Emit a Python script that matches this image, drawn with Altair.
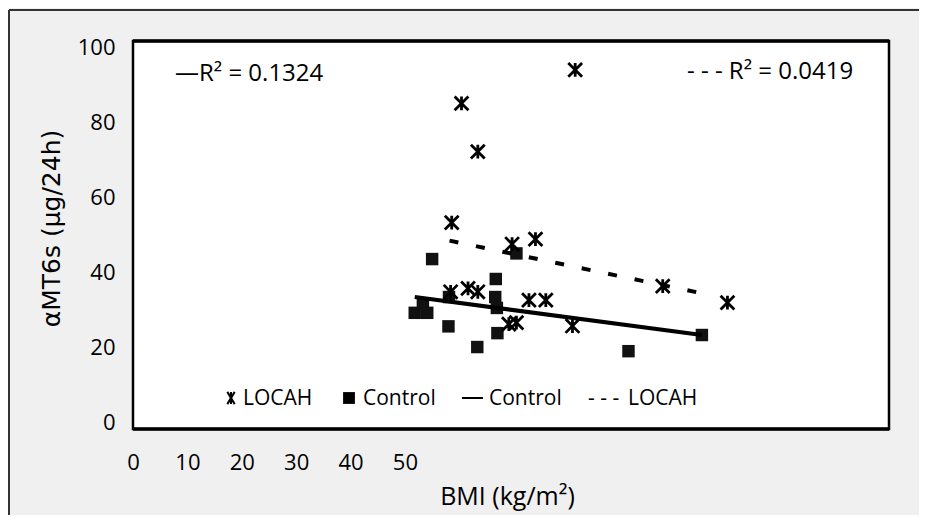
import altair as alt
import pandas as pd

# ---- data ----
locah_bmi = [81.3, 60.4, 63.4, 58.6, 69.7, 74.0, 58.4, 61.6, 63.4, 72.8, 75.9, 69.1, 70.5, 80.8, 97.4, 109.3]
locah_mt6s = [93.9, 85.0, 72.2, 53.3, 47.6, 48.9, 34.9, 35.8, 34.9, 32.7, 32.7, 26.3, 26.7, 25.8, 36.4, 32.0]
control_bmi = [55.0, 70.5, 66.7, 51.8, 54.1, 53.3, 58.1, 66.6, 66.9, 58.0, 67.0, 63.3, 91.1, 104.6]
control_mt6s = [43.6, 45.1, 38.3, 29.3, 29.3, 31.6, 33.5, 33.5, 30.6, 25.7, 23.9, 20.2, 19.1, 23.4]
control_fit_bmi = [51.8, 104.6]
control_fit_mt6s = [33.5, 23.4]
locah_fit_bmi = [58.2, 104.2]
locah_fit_mt6s = [48.5, 34.6]
x_ticks = [0, 10, 20, 30, 40, 50]
y_ticks = [0, 20, 40, 60, 80, 100]
r2_control = "—R² = 0.1324"
r2_locah = "- - - R² = 0.0419"
x_title = "BMI (kg/m²)"
y_title = "αMT6s (μg/24h)"

W, H = 756, 388
FONT = "Open Sans"

locah_df = pd.DataFrame({"bmi": locah_bmi, "mt6s": locah_mt6s})
control_df = pd.DataFrame({"bmi": control_bmi, "mt6s": control_mt6s})
cfit_df = pd.DataFrame({"bmi": control_fit_bmi, "mt6s": control_fit_mt6s})
lfit_df = pd.DataFrame({"bmi": locah_fit_bmi, "mt6s": locah_fit_mt6s})

xs = alt.Scale(domain=[0, 139], nice=False, zero=False)
ys = alt.Scale(domain=[-1.6, 101.6], nice=False, zero=False)

x_enc = alt.X("bmi:Q", scale=xs, axis=alt.Axis(
    values=x_ticks, title=x_title, domain=False, ticks=False, tickSize=0, grid=False,
    labelFont=FONT, labelFontSize=22, labelColor="black", labelPadding=40,
    labelBaseline="alphabetic", labelFlush=False,
    titleFont=FONT, titleFontSize=25, titleFontWeight="normal", titleColor="black",
    titleX=374, titleY=75, titleAlign="center", titleBaseline="alphabetic"))
y_enc = alt.Y("mt6s:Q", scale=ys, axis=alt.Axis(
    values=y_ticks, title=y_title, domain=False, ticks=False, tickSize=0, grid=False,
    labelFont=FONT, labelFontSize=22, labelColor="black", labelPadding=18,
    labelFlush=False,
    titleFont="DejaVu Sans", titleFontSize=25, titleFontWeight="normal", titleColor="black",
    titleAngle=270, titleX=-82, titleY=187, titleAlign="center", titleBaseline="middle"))

STAR = "M-1,-1L1,1M-1,1L1,-1M0,-1L0,1"

squares = alt.Chart(control_df).mark_point(
    shape="square", filled=True, size=155, color="#111111", opacity=1
).encode(x=x_enc, y=y_enc)

stars = alt.Chart(locah_df).mark_point(
    shape=STAR, filled=False, size=190, color="black", strokeWidth=2.8, opacity=1
).encode(x=x_enc, y=y_enc)

cfit = alt.Chart(cfit_df).mark_line(color="black", strokeWidth=4).encode(x=x_enc, y=y_enc)
lfit = alt.Chart(lfit_df).mark_line(color="black", strokeWidth=4, strokeDash=[9, 18]).encode(x=x_enc, y=y_enc)


def txt(s, x, y, size=21):
    return alt.Chart(alt.Data(values=[{}])).mark_text(
        text=s, align="left", baseline="alphabetic", font=FONT, fontSize=size, color="black"
    ).encode(x=alt.value(x), y=alt.value(y))


one = alt.Data(values=[{}])
frame_top = alt.Chart(one).mark_rule(color="black", strokeWidth=3.5).encode(
    x=alt.value(0), x2=alt.value(W), y=alt.value(0))
frame_bot = alt.Chart(one).mark_rule(color="black", strokeWidth=3.5).encode(
    x=alt.value(0), x2=alt.value(W), y=alt.value(H))
outer_left = alt.Chart(one).mark_rule(color="#333333", strokeWidth=2).encode(
    x=alt.value(-124), y=alt.value(-31), y2=alt.value(490))
outer_top = alt.Chart(one).mark_rule(color="#333333", strokeWidth=2).encode(
    x=alt.value(-124), x2=alt.value(820), y=alt.value(-31))

leg_star = alt.Chart(one).mark_point(
    shape="M-0.6,-1L0.6,1M-0.6,1L0.6,-1M0,-1L0,1", filled=False, size=150,
    color="black", strokeWidth=2, opacity=1
).encode(x=alt.value(98), y=alt.value(357))
leg_sq = alt.Chart(one).mark_point(
    shape="square", filled=True, size=140, color="black", opacity=1
).encode(x=alt.value(216), y=alt.value(357))
leg_line = alt.Chart(one).mark_rule(color="black", strokeWidth=2).encode(
    x=alt.value(329), x2=alt.value(350), y=alt.value(357))

chart = alt.layer(
    outer_left, outer_top,
    squares, stars, cfit, lfit,
    frame_top, frame_bot,
    txt(r2_control, 42, 40, 24), txt(r2_locah, 554, 38, 24),
    leg_star, txt("LOCAH", 110, 364),
    leg_sq, txt("Control", 230, 364),
    leg_line, txt("Control", 356, 364),
    txt("-  -  -", 455, 364), txt("LOCAH", 495, 364),
).properties(
    width=W, height=H, background="#f0f0f0",
    padding={"left": 125, "top": 33, "right": 30, "bottom": 86},
    autosize=alt.AutoSizeParams(type="none"),
).configure_view(fill="white", stroke="black", strokeWidth=2.5)

chart.save("out.html", embed_options={"renderer": "svg", "actions": False})
